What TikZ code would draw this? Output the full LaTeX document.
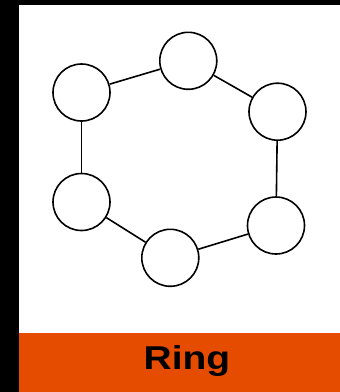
\documentclass[tikz,border=0pt]{standalone}
\usepackage{fontspec}
\setmainfont{Liberation Sans}
\usetikzlibrary{positioning}
\definecolor{ringorange}{RGB}{230,76,0}

\begin{document}
\begin{tikzpicture}[
    x=1pt, y=-1pt,
    station/.style={circle, draw, line width=1.6pt, minimum size=57pt, inner sep=0pt},
    link/.style={line width=1.6pt}
]
\useasboundingbox (0,0) rectangle (340,392);
\fill[black] (0,0) rectangle (340,392);
\fill[white] (19,5) rectangle (340,333);
\fill[ringorange] (19,333) rectangle (340,392);

\node[station] (nw) at (81.5,92.5) {};
\node[station] (top) at (188.3,60.8) {};
\node[station] (ne) at (277.5,111.7) {};
\node[station] (se) at (276,225.5) {};
\node[station] (bot) at (170.3,257.8) {};
\node[station] (sw) at (81.5,202) {};

\draw[link] (nw) -- (top);
\draw[link] (top) -- (ne);
\draw[link] (ne) -- (se);
\draw[link] (se) -- (bot);
\draw[link] (bot) -- (sw);
\draw[link] (sw) -- (nw);

\node[anchor=base, font=\fontsize{33}{36}\selectfont\bfseries, xscale=1.18, transform shape] (title) at (187,369.3) {Ring};
\end{tikzpicture}
\end{document}
